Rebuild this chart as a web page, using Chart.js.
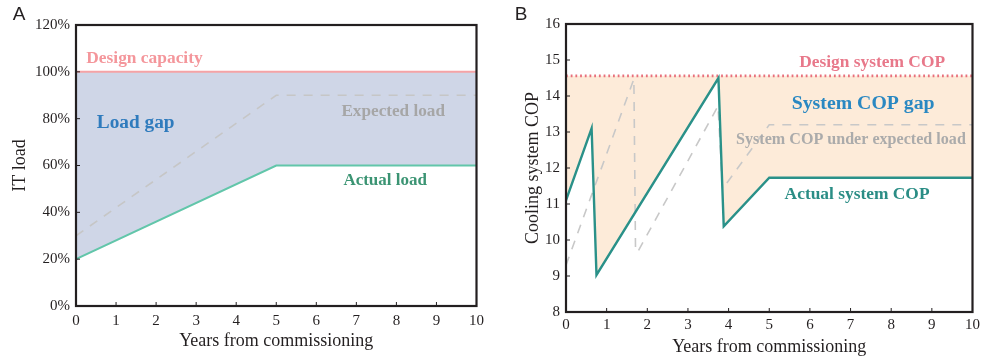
<!DOCTYPE html>
<html><head><meta charset="utf-8">
<script src="https://cdn.jsdelivr.net/npm/chart.js@4/dist/chart.umd.min.js"></script>
<style>
html,body{margin:0;padding:0;background:#fff;width:984px;height:359px;overflow:hidden}
#a{position:absolute;left:0;top:0}
#b{position:absolute;left:490px;top:0}
</style>
</head><body>
<canvas id="a" width="490" height="359"></canvas>
<canvas id="b" width="494" height="359"></canvas>
<script>
// ---------- Panel A data ----------
const loadYears = [0, 5, 10];
const actualLoad = [20, 60, 60];
const expectedLoad = [30, 90, 90];
const designYears = [0, 10];
const designCapacity = [100, 100];

// ---------- Panel B data ----------
const copActualYears = [0, 0.63, 0.75, 3.75, 3.88, 5, 10];
const copActual = [11.1, 13.1, 9.03, 14.5, 10.38, 11.73, 11.73];
const copExpectedYears = [0, 1.67, 1.71, 1.76, 3.74, 3.85, 5, 10];
const copExpected = [9.3, 14.47, 9.75, 9.66, 13.72, 11.42, 13.2, 13.2];
const designCop = [14.56, 14.56];

const xTicks = [0,1,2,3,4,5,6,7,8,9,10];

const SERIF = '"Liberation Serif","Times New Roman",serif';
const INK = '#231f20';

const pts = (xs, ys) => xs.map((x, i) => ({x, y: ys[i]}));

const framePlugin = {
  id: 'frame',
  afterDraw(chart, args, opts) {
    const {ctx, chartArea: a, scales: {x, y}} = chart;
    ctx.save();
    ctx.strokeStyle = INK;
    ctx.lineWidth = 1;
    x.ticks.forEach(t => {
      const p = x.getPixelForValue(t.value);
      ctx.beginPath(); ctx.moveTo(p, a.bottom); ctx.lineTo(p, a.bottom - 4); ctx.stroke();
    });
    y.ticks.forEach(t => {
      const p = y.getPixelForValue(t.value);
      ctx.beginPath(); ctx.moveTo(a.left, p); ctx.lineTo(a.left + 4, p); ctx.stroke();
    });
    ctx.lineWidth = 2.2;
    ctx.strokeRect(a.left, a.top, a.right - a.left, a.bottom - a.top);
    (opts.items || []).forEach(it => {
      ctx.font = 'bold ' + it.size + 'px ' + SERIF;
      ctx.fillStyle = it.color;
      ctx.textAlign = 'center';
      ctx.textBaseline = 'middle';
      ctx.fillText(it.text, x.getPixelForValue(it.x), y.getPixelForValue(it.y));
    });
    if (opts.letter) {
      ctx.font = '19px "Liberation Sans", Arial, sans-serif';
      ctx.fillStyle = INK;
      ctx.textAlign = 'center';
      ctx.textBaseline = 'middle';
      ctx.fillText(opts.letter.text, opts.letter.px, opts.letter.py);
    }
    ctx.restore();
  }
};

function axes(o) {
  return {
    x: {
      type: 'linear', min: 0, max: 10,
      afterBuildTicks: s => { s.ticks = xTicks.map(v => ({value: v})); },
      ticks: {font: {family: SERIF, size: 15}, color: INK, padding: o.xPad, maxRotation: 0, autoSkip: false},
      grid: {display: false, drawTicks: false},
      border: {display: false},
      title: {display: true, text: 'Years from commissioning', font: {family: SERIF, size: 18}, color: INK, padding: {top: 0, bottom: o.xTitlePad}},
      afterFit: s => { s.height = o.xH; }
    },
    y: {
      type: 'linear', min: o.yMin, max: o.yMax,
      ticks: {stepSize: o.yStep, font: {family: SERIF, size: 15}, color: INK, padding: 6, callback: o.yFmt},
      grid: {display: false, drawTicks: false},
      border: {display: false},
      title: {display: true, text: o.yTitle, font: {family: SERIF, size: 18}, color: INK, padding: {top: o.yTitlePad, bottom: 0}},
      afterFit: s => { s.width = 76; }
    }
  };
}

new Chart(document.getElementById('a'), {
  type: 'line',
  data: {
    datasets: [
      {label: 'Actual load', data: pts(loadYears, actualLoad), borderColor: '#62c6aa', borderWidth: 2,
       fill: {target: 2}, backgroundColor: '#cfd6e7'},
      {label: 'Expected load', data: pts(loadYears, expectedLoad), borderColor: '#c6c6c6', borderWidth: 1.6,
       borderDash: [9, 8], fill: false},
      {label: 'Design capacity', data: pts(designYears, designCapacity), borderColor: '#f5a3a6', borderWidth: 2, fill: false}
    ]
  },
  options: {
    responsive: false, animation: false,
    layout: {padding: {left: 0, top: 25, right: 11, bottom: 0}},
    elements: {point: {radius: 0}, line: {tension: 0, borderJoinStyle: 'miter'}},
    scales: axes({xPad: 6, xTitlePad: 7, xH: 53, yMin: 0, yMax: 120, yStep: 20, yFmt: v => v + '%', yTitle: 'IT load', yTitlePad: 9}),
    plugins: {
      legend: {display: false}, tooltip: {enabled: false},
      filler: {propagate: false, drawTime: 'beforeDatasetsDraw'},
      frame: {
        letter: {text: 'A', px: 19, py: 15},
        items: [
          {text: 'Design capacity', x: 1.71, y: 105.6, color: '#f4969b', size: 17.4},
          {text: 'Load gap', x: 1.49, y: 78.2, color: '#2f7bbd', size: 19.3},
          {text: 'Expected load', x: 7.92, y: 82.9, color: '#a6a6a6', size: 17.2},
          {text: 'Actual load', x: 7.72, y: 53.4, color: '#3b9473', size: 17}
        ]
      }
    }
  },
  plugins: [framePlugin]
});

new Chart(document.getElementById('b'), {
  type: 'line',
  data: {
    datasets: [
      {label: 'Actual system COP', data: pts(copActualYears, copActual), borderColor: '#2a9189', borderWidth: 2.4,
       fill: {target: 2}, backgroundColor: '#fdebd9'},
      {label: 'System COP under expected load', data: pts(copExpectedYears, copExpected), borderColor: '#c8c8c8', borderWidth: 1.6,
       borderDash: [9, 8], fill: false},
      {label: 'Design system COP', data: pts(designYears, designCop), borderColor: '#e8707c', borderWidth: 2.6,
       borderDash: [1.8, 2.9], fill: false}
    ]
  },
  options: {
    responsive: false, animation: false,
    layout: {padding: {left: 0, top: 24, right: 10, bottom: 0}},
    elements: {point: {radius: 0}, line: {tension: 0, borderJoinStyle: 'miter'}},
    scales: axes({xPad: 4, xTitlePad: 1, xH: 47, yMin: 8, yMax: 16, yStep: 1, yFmt: v => v, yTitle: 'Cooling system COP', yTitlePad: 32.7}),
    plugins: {
      legend: {display: false}, tooltip: {enabled: false},
      filler: {propagate: false, drawTime: 'beforeDatasetsDraw'},
      frame: {
        letter: {text: 'B', px: 31, py: 15},
        items: [
          {text: 'Design system COP', x: 7.53, y: 14.94, color: '#e8788a', size: 17.4},
          {text: 'System COP gap', x: 7.31, y: 13.78, color: '#2a88c2', size: 19.8},
          {text: 'System COP under expected load', x: 7.01, y: 12.78, color: '#ababab', size: 16.1},
          {text: 'Actual system COP', x: 7.16, y: 11.25, color: '#2a8d85', size: 17.4}
        ]
      }
    }
  },
  plugins: [framePlugin]
});
</script>
</body></html>
